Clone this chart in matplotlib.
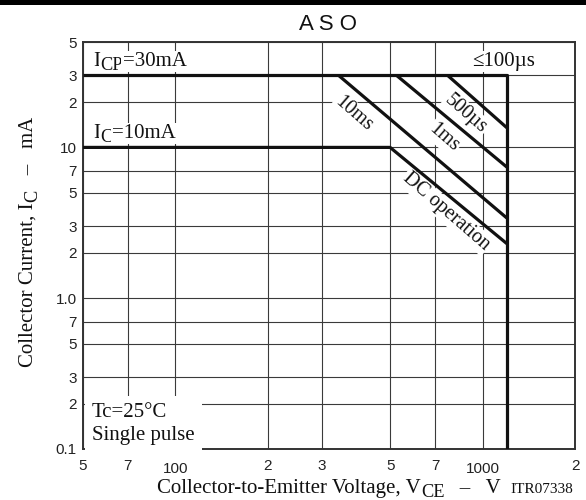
import matplotlib
matplotlib.use("Agg")
import numpy as np
import matplotlib.pyplot as plt
from matplotlib.patches import Rectangle
from matplotlib.ticker import FixedLocator, FixedFormatter
from matplotlib.transforms import IdentityTransform

SERIF = ["Liberation Serif", "DejaVu Serif"]
SANS = ["Liberation Sans", "DejaVu Sans"]

# axis ticks (V in volts, I in mA)
x_major = [100, 1000]
x_major_labels = ["100", "1000"]
x_minor = [50, 70, 200, 300, 500, 700, 2000]
x_minor_labels = ["5", "7", "2", "3", "5", "7", "2"]
y_major = [1, 10]
y_major_labels = ["1.0", "10"]
y_minor = [0.1, 0.2, 0.3, 0.5, 0.7, 2, 3, 5, 7, 20, 30, 50]
y_minor_labels = ["0.1", "2", "3", "5", "7", "2", "3", "5", "7", "2", "3", "5"]

# safe operating area boundaries
icp_v = [50, 1200, 1200]
icp_i = [30, 30, 0.1]
dc_v = [50, 500, 1200]
dc_i = [10, 10, 2.3]
v_10ms = [340, 1200]
i_10ms = [30, 3.4]
v_1ms = [525, 1200]
i_1ms = [30, 7.4]
v_500us = [770, 1200]
i_500us = [30, 13.5]


def chain_text(ax, x, y, pieces, size, rotation=0, sub_scale=0.88, drop=4.0, bbox=None):
    """Lay pieces along one baseline from pixel (x, y); subscript pieces are lowered."""
    renderer = ax.figure.canvas.get_renderer()
    rad = np.deg2rad(rotation)
    dx, dy = np.cos(rad), np.sin(rad)
    nx, ny = np.sin(rad), -np.cos(rad)
    pos = 0.0
    for text, sub in pieces:
        fs = size * sub_scale if sub else size
        off = drop if sub else 0.0
        t = ax.text(x + pos * dx + off * nx, y + pos * dy + off * ny, text,
                    transform=IdentityTransform(), fontfamily=SERIF, fontsize=fs,
                    rotation=rotation, rotation_mode="anchor", ha="left", va="baseline",
                    color="#111111", bbox=bbox, zorder=3, clip_on=False)
        ext = t.get_window_extent(renderer)
        pos += abs(ext.width * dx) + abs(ext.height * dy)


W, H = 586, 500
fig = plt.figure(figsize=(W / 100, H / 100), dpi=100)
ax = fig.add_axes([83 / W, 1 - 449 / H, 492 / W, 407 / H])
ax.set_xscale("log")
ax.set_yscale("log")
ax.set_xlim(50, 2000)
ax.set_ylim(0.1, 50)

ax.xaxis.set_major_locator(FixedLocator(x_major))
ax.xaxis.set_major_formatter(FixedFormatter(x_major_labels))
ax.xaxis.set_minor_locator(FixedLocator(x_minor))
ax.xaxis.set_minor_formatter(FixedFormatter(x_minor_labels))
ax.yaxis.set_major_locator(FixedLocator(y_major))
ax.yaxis.set_major_formatter(FixedFormatter(y_major_labels))
ax.yaxis.set_minor_locator(FixedLocator(y_minor))
ax.yaxis.set_minor_formatter(FixedFormatter(y_minor_labels))

ax.tick_params(axis="x", which="minor", length=0, pad=7, labelsize=11)
ax.tick_params(axis="x", which="major", length=0, pad=9.5, labelsize=11)
ax.tick_params(axis="y", which="both", length=0, pad=4.5, labelsize=11)
for lab in ax.get_xticklabels(which="both") + ax.get_yticklabels(which="both"):
    lab.set_fontfamily(SANS)
    lab.set_color("#222222")

ax.grid(True, which="both", color="#3a3a3a", linewidth=0.8, zorder=1)
ax.set_axisbelow(True)
for sp in ax.spines.values():
    sp.set_linewidth(1.4)
    sp.set_color("#333333")

for vv, ii in [(icp_v, icp_i), (dc_v, dc_i), (v_10ms, i_10ms), (v_1ms, i_1ms), (v_500us, i_500us)]:
    ax.plot(vv, ii, color="#111111", linewidth=2.3, solid_capstyle="butt", zorder=5)

box = dict(facecolor="white", edgecolor="none", pad=1.0)
fig.canvas.draw()

# labels inside the plot, placed by pixel (origin bottom-left)
chain_text(ax, 93, H - 66, [("I", False), ("CP", True), ("=30mA", False)], 15, bbox=box)
chain_text(ax, 93, H - 138, [("I", False), ("C", True), ("=10mA", False)], 15, bbox=box)
chain_text(ax, 472, H - 66, [("≤100µs", False)], 15, bbox=box)

rot = -41
for vx, iy, s in [(380, 16.8, "10ms"), (746, 11.6, "1ms"), (881, 16.6, "500µs"),
                  (760, 3.75, "DC operation")]:
    ax.text(vx, iy, s, fontfamily=SERIF, fontsize=14.5, rotation=rot, color="#111111",
            ha="center", va="center", rotation_mode="anchor", bbox=box, zorder=3)

# va="baseline" on two lines anchors the last line
ax.text(92, H - 440, "Tc=25°C\nSingle pulse", transform=IdentityTransform(),
        fontfamily=SERIF, fontsize=15, ha="left", va="baseline", linespacing=1.28,
        color="#111111", bbox=dict(facecolor="white", edgecolor="none", pad=5), zorder=3)

# axis titles
chain_text(ax, 157, H - 493, [("Collector-to-Emitter Voltage, V", False), ("CE", True),
                              ("   –   V", False)], 15)
chain_text(ax, 33, H - 367, [("Collector Current, I", False), ("C", True),
                             ("   –   mA", False)], 15, rotation=90)
ax.text(510, H - 493, "ITR07338", transform=IdentityTransform(), fontfamily=SERIF,
        fontsize=11, ha="left", va="baseline", color="#111111", clip_on=False)

fig.text(328 / W, 1 - 25 / H, "A S O", fontfamily=SANS, fontsize=16,
         ha="center", va="center", color="#111111")
fig.add_artist(Rectangle((0, 1 - 5 / H), 1, 5 / H, transform=fig.transFigure,
                         facecolor="black", edgecolor="none"))

fig.savefig("out.png", dpi=100)
